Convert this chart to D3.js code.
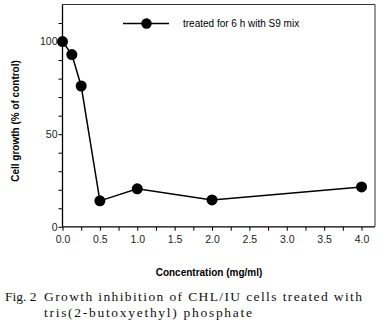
<!DOCTYPE html>
<html>
<head>
<meta charset="utf-8">
<script src="https://cdn.jsdelivr.net/npm/d3@7"></script>
<style>
  body { margin: 0; background: #fff; }
  svg { display: block; }
  .ax text { font-family: "Liberation Sans", Arial, sans-serif; font-size: 10.5px; fill: #222; }
</style>
</head>
<body>
<div id="chart"></div>
<script>
//// data
var concentration = [0, 0.125, 0.25, 0.5, 1.0, 2.0, 4.0];
var growth = [100, 93, 76, 14, 20.5, 14.5, 21.5];
var xTickLabels = ["0.0", "0.5", "1.0", "1.5", "2.0", "2.5", "3.0", "3.5", "4.0"];
var yTickLabels = ["0", "50", "100"];
var legendLabel = "treated for 6 h with S9 mix";

//// chart
var width = 383, height = 332;

var svg = d3.select("#chart")
  .append("svg")
    .attr("width", width)
    .attr("height", height);

var x = d3.scaleLinear()
  .domain([0, 4.18])
  .range([62.5, 375]);

var y = d3.scaleLinear()
  .domain([0, 120])
  .range([226.8, 4.5]);

// frame (top + right)
svg.append("path")
  .attr("d", "M" + x(0) + "," + y(120) + "H" + x(4.18) + "V" + y(0))
  .attr("fill", "none")
  .attr("stroke", "#333")
  .attr("stroke-width", 1);

//// x axis
var xMajor = xTickLabels.map(function(d) { return +d; });
svg.append("g")
  .attr("class", "ax")
  .attr("transform", "translate(0," + y(0) + ")")
  .call(d3.axisBottom(x).tickValues(d3.range(0, 4.01, 0.25))
    .tickSize(4).tickSizeOuter(0)
    .tickFormat(function(d) {
      var i = xMajor.findIndex(function(v) { return Math.abs(v - d) < 1e-6; });
      return i >= 0 ? xTickLabels[i] : "";
    }))
  .call(function(g) {
    g.select(".domain").attr("stroke", "#000").attr("stroke-width", 1.3)
      .attr("d", "M" + x(0) + ",0H" + x(4.18));
    g.selectAll("text").attr("dy", "0.9em");
  });

//// y axis
var yMajor = yTickLabels.map(function(d) { return +d; });
svg.append("g")
  .attr("class", "ax")
  .attr("transform", "translate(" + x(0) + ",0)")
  .call(d3.axisLeft(y).tickValues(d3.range(0, 111, 10))
    .tickSize(4).tickSizeOuter(0)
    .tickFormat(function(d) {
      var i = yMajor.indexOf(d);
      return i >= 0 ? yTickLabels[i] : "";
    }))
  .call(function(g) {
    g.select(".domain").attr("stroke", "#000").attr("stroke-width", 1.3)
      .attr("d", "M0," + y(0) + "V" + y(120));
    g.selectAll("text").attr("x", -5);
  });

//// axis titles
svg.append("text")
  .attr("transform", "translate(19," + 121 + ") rotate(-90)")
  .attr("text-anchor", "middle")
  .style("font-family", "'Liberation Sans', Arial, sans-serif")
  .style("font-weight", "bold")
  .style("font-size", "10px")
  .text("Cell growth (% of control)");

svg.append("text")
  .attr("x", 209)
  .attr("y", 276)
  .attr("text-anchor", "middle")
  .style("font-family", "'Liberation Sans', Arial, sans-serif")
  .style("font-weight", "bold")
  .style("font-size", "10px")
  .text("Concentration (mg/ml)");

//// line + dots
var line = d3.line()
  .x(function(d, i) { return x(concentration[i]); })
  .y(function(d) { return y(d); });

svg.append("path")
  .datum(growth)
  .attr("d", line)
  .attr("fill", "none")
  .attr("stroke", "#000")
  .attr("stroke-width", 1.5);

svg.selectAll(".dot")
    .data(growth)
  .enter().append("circle")
    .attr("class", "dot")
    .attr("cx", function(d, i) { return x(concentration[i]); })
    .attr("cy", function(d) { return y(d); })
    .attr("r", 5.5)
    .style("fill", "#000");

//// legend
var leg = svg.append("g").attr("transform", "translate(0,23.5)");
leg.append("line")
  .attr("x1", 123).attr("x2", 169)
  .attr("stroke", "#000").attr("stroke-width", 1.5);
leg.append("circle")
  .attr("cx", 146.5).attr("r", 5.2).style("fill", "#000");
leg.append("text")
  .attr("x", 183).attr("y", 3.5)
  .style("font-family", "'Liberation Sans', Arial, sans-serif")
  .style("font-size", "10px")
  .text(legendLabel);

//// caption
var cap = svg.append("g")
  .style("font-family", "'Liberation Serif', 'Times New Roman', serif")
  .style("font-size", "13.5px")
  .style("fill", "#111");
cap.append("text").attr("x", 5).attr("y", 301).text("Fig. 2");
cap.append("text").attr("x", 44).attr("y", 301)
  .attr("textLength", 318).attr("lengthAdjust", "spacing")
  .text("Growth inhibition of CHL/IU cells treated with");
cap.append("text").attr("x", 44).attr("y", 317)
  .attr("textLength", 208).attr("lengthAdjust", "spacing")
  .text("tris(2-butoxyethyl) phosphate");
</script>
</body>
</html>
